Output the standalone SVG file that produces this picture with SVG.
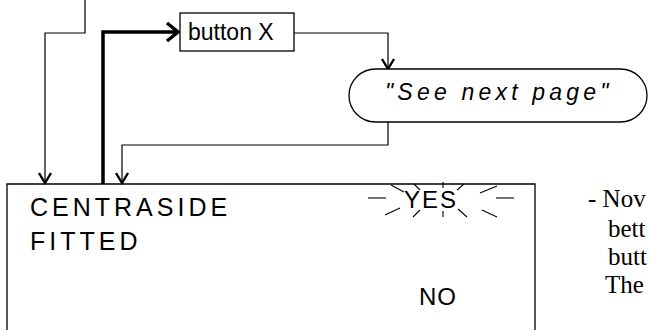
<svg xmlns="http://www.w3.org/2000/svg" width="649" height="330" viewBox="0 0 649 330">
<style>
.ln{fill:none;stroke:#000;stroke-width:1.2}
.thick{fill:none;stroke:#000;stroke-width:3.5}
.ah{fill:none;stroke:#000;stroke-width:2.4}
.box{fill:#fff;stroke:#000;stroke-width:1.3}
.sans{font-family:"Liberation Sans",Arial,sans-serif;fill:#000}
.serif{font-family:"Liberation Serif","Times New Roman",serif;fill:#000}
.ray{stroke:#000;stroke-width:1.1}
</style>
<rect width="649" height="330" fill="#fff"/>
<g id="connectors">
<path class="ln" d="M85,0 V33 H45 V182"/>
<path class="ah" d="M39,173 L45,183 L51,173"/>
<path class="thick" d="M103,184 V32 H176"/>
<path class="ah" d="M167,23 L178,32 L167,41" style="stroke-width:3.5"/>
<path class="ln" d="M294,33 H388 V68"/>
<path class="ah" d="M382,59 L388,69 L394,59"/>
<path class="ln" d="M388,122 V145 H122 V182"/>
<path class="ah" d="M116,173 L122,183 L128,173"/>
</g>
<g id="buttonX">
<rect class="box" x="180" y="13" width="114" height="38"/>
<text class="sans" x="188" y="40" font-size="23">button X</text>
</g>
<g id="seeNextPage">
<rect class="box" x="349" y="69" width="298" height="53" rx="26.5" ry="26.5"/>
<text class="sans" x="385" y="100" font-size="23" font-style="italic" letter-spacing="4.2">"See next page"</text>
</g>
<g id="display">
<path class="box" d="M7,330 V184 H535 V330" style="fill:none"/>
<text class="sans" x="30" y="216" font-size="25" letter-spacing="4">CENTRASIDE</text>
<text class="sans" x="30" y="250" font-size="25" letter-spacing="4">FITTED</text>
<text class="sans" x="404" y="208" font-size="24" letter-spacing="2">YES</text>
<g id="rays">
<line class="ray" x1="368" y1="198" x2="386" y2="198"/>
<line class="ray" x1="496" y1="198" x2="514" y2="198"/>
<line class="ray" x1="391" y1="185" x2="404" y2="192"/>
<line class="ray" x1="414" y1="184" x2="420" y2="190"/>
<line class="ray" x1="443" y1="182" x2="443" y2="188"/>
<line class="ray" x1="457" y1="190" x2="464" y2="184"/>
<line class="ray" x1="480" y1="193" x2="497" y2="186"/>
<line class="ray" x1="385" y1="215" x2="400" y2="208"/>
<line class="ray" x1="413" y1="217" x2="420" y2="210"/>
<line class="ray" x1="443" y1="211" x2="443" y2="217"/>
<line class="ray" x1="458" y1="209" x2="467" y2="217"/>
<line class="ray" x1="482" y1="210" x2="497" y2="217"/>
</g>
<text class="sans" x="419" y="305" font-size="24" letter-spacing="1">NO</text>
</g>
<g id="sidetext" class="serif" font-size="25">
<text x="588" y="207">- Nov</text>
<text x="608" y="237">bett</text>
<text x="608" y="265">butt</text>
<text x="605" y="293">The</text>
</g>
</svg>
